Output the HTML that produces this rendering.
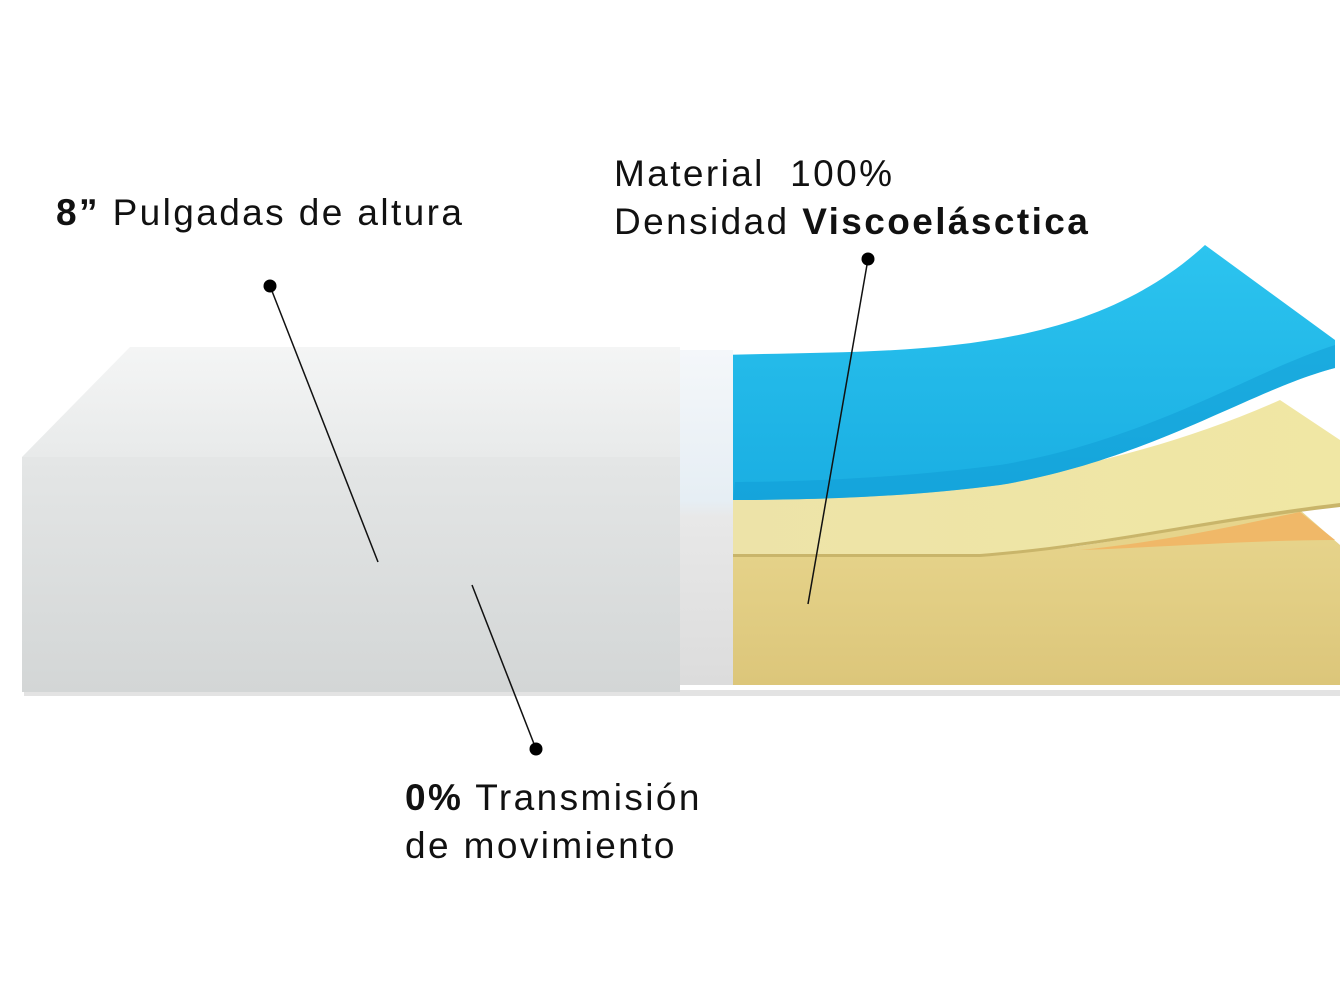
<!DOCTYPE html>
<html><head><meta charset="utf-8"><style>
html,body{margin:0;padding:0;background:#fff;}
body{width:1343px;height:1008px;position:relative;overflow:hidden;font-family:"Liberation Sans",sans-serif;color:#111;}
.t{position:absolute;font-size:37px;letter-spacing:2.4px;white-space:nowrap;line-height:48px;}
b{font-weight:bold;}
svg{position:absolute;left:0;top:0;}
</style></head><body>
<svg width="1343" height="1008" viewBox="0 0 1343 1008">
<defs>
<linearGradient id="front" x1="0" y1="0" x2="0" y2="1"><stop offset="0" stop-color="#e4e6e6"/><stop offset="1" stop-color="#d3d6d6"/></linearGradient>
<linearGradient id="top" x1="0" y1="0" x2="0" y2="1"><stop offset="0" stop-color="#f4f5f5"/><stop offset="1" stop-color="#e8eaea"/></linearGradient>
<linearGradient id="band" x1="0" y1="0" x2="0" y2="1"><stop offset="0" stop-color="#f4f7fa"/><stop offset="0.45" stop-color="#e6eef4"/><stop offset="0.5" stop-color="#e8e8e8"/><stop offset="1" stop-color="#dcdcdc"/></linearGradient>
<linearGradient id="blue" x1="0" y1="0" x2="0" y2="1"><stop offset="0" stop-color="#2cc4ef"/><stop offset="1" stop-color="#1aaee2"/></linearGradient>
<linearGradient id="mid" x1="0" y1="0" x2="1" y2="0"><stop offset="0" stop-color="#ede3a8"/><stop offset="1" stop-color="#f0e7a4"/></linearGradient>
<linearGradient id="base" x1="0" y1="0" x2="0" y2="1"><stop offset="0" stop-color="#e8d68e"/><stop offset="1" stop-color="#dcc67a"/></linearGradient>
</defs>
<rect x="24" y="690" width="1316" height="6" fill="#c8c8c8" opacity="0.5"/>
<path d="M733,555 L980,555 C1100,550 1200,522 1300,510 L1340,545 L1340,685 L733,685 Z" fill="url(#base)"/>
<path d="M1080,550 C1180,540 1260,520 1300,512 L1335,540 C1250,540 1150,548 1080,550 Z" fill="#f0b868"/>
<path d="M733,500 C900,500 1100,480 1280,400 L1340,440 L1340,505 C1200,520 1100,545 980,555 L733,555 Z" fill="url(#mid)"/>
<path d="M733,554 L980,554 C1100,545 1200,520 1340,503 L1340,507 C1200,523 1100,548 980,557 L733,557 Z" fill="#c9b56a"/>
<path d="M720,355 C900,350 1080,360 1205,245 L1335,340 L1335,368 C1250,390 1150,460 1000,485 C900,498 800,500 733,500 Z" fill="url(#blue)"/>
<path d="M733,500 C800,500 900,498 1000,485 C1150,460 1250,390 1335,368 L1335,345 C1250,372 1150,440 1000,465 C900,478 800,482 735,482 Z" fill="#109ad2" opacity="0.45"/>
<polygon points="22,457 130,347 680,347 680,457" fill="url(#top)"/>
<rect x="22" y="457" width="658" height="235" fill="url(#front)"/>
<rect x="680" y="350" width="53" height="335" fill="url(#band)"/>
<g stroke="#111" stroke-width="1.5">
<line x1="270" y1="286" x2="378" y2="562"/>
<line x1="536" y1="749" x2="472" y2="585"/>
<line x1="868" y1="259" x2="808" y2="604"/>
</g>
<g fill="#000">
<circle cx="270" cy="286" r="6.5"/>
<circle cx="536" cy="749" r="6.5"/>
<circle cx="868" cy="259" r="6.5"/>
</g>
</svg>
<div class="t" style="left:56px;top:189px;"><b>8”</b> Pulgadas de altura</div>
<div class="t" style="left:614px;top:150px;">Material&nbsp; 100%</div>
<div class="t" style="left:614px;top:198px;">Densidad <b>Viscoelásctica</b></div>
<div class="t" style="left:405px;top:774px;"><b>0%</b> Transmisión</div>
<div class="t" style="left:405px;top:822px;">de movimiento</div>
</body></html>
